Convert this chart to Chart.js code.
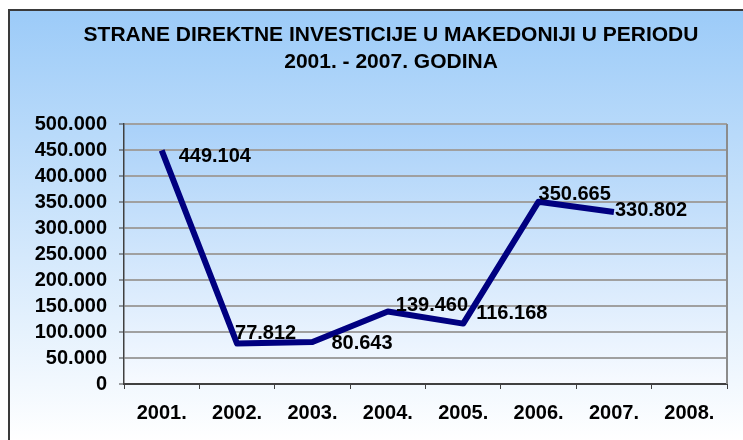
<!DOCTYPE html>
<html>
<head>
<meta charset="utf-8">
<script src="https://cdn.jsdelivr.net/npm/chart.js@4"></script>
<style>
    body { margin: 0; background: #fff; }
    #frame {
        position: absolute; left: 8px; top: 9px; width: 800px; height: 500px;
        border-top: 2px solid #3a3a3a; border-left: 2px solid #3a3a3a;
        background: linear-gradient(to bottom, #9ccbf8 0px, #ffffff 430px);
    }
    #fdiChart { position: absolute; left: 0; top: 0; }
</style>
</head>
<body>
<div id="frame"></div>
<canvas id="fdiChart" width="743" height="440"></canvas>
<script>
// Podaci
const years = ['2001.', '2002.', '2003.', '2004.', '2005.', '2006.', '2007.', '2008.'];
const investments = [449104, 77812, 80643, 139460, 116168, 350665, 330802];
const yTickLabels = ['0', '50.000', '100.000', '150.000', '200.000', '250.000',
    '300.000', '350.000', '400.000', '450.000', '500.000'];
const titleLines = ['STRANE DIREKTNE INVESTICIJE U MAKEDONIJI U PERIODU', '2001. - 2007. GODINA'];

// pomak oznaka u odnosu na tačku (kao u originalu)
const labelOffsets = [[17, 6], [-2, -10], [19, 1], [8, -6], [13, -10], [0, -7], [1, -1]];

const font = "'Liberation Sans', Arial, sans-serif";
Chart.defaults.font.family = font;

function formatNum(v) {
    return v.toString().replace(/\B(?=(\d{3})+(?!\d))/g, '.');
}

// Pozadina grafika i desna ivica
const plotArea = {
    id: 'plotArea',
    beforeDraw(chart) {
        const { ctx, chartArea: a } = chart;
        const g = ctx.createLinearGradient(0, a.top, 0, a.bottom);
        g.addColorStop(0, '#a9d1f9');
        g.addColorStop(1, '#f7faff');
        ctx.save();
        ctx.fillStyle = g;
        ctx.fillRect(a.left, a.top, a.right - a.left, a.bottom - a.top);
        ctx.restore();
    },
    beforeDatasetsDraw(chart) {
        const { ctx, chartArea: a } = chart;
        ctx.save();
        ctx.strokeStyle = '#8c8c8c';
        ctx.lineWidth = 2;
        ctx.beginPath();
        ctx.moveTo(a.right, a.top);
        ctx.lineTo(a.right, a.bottom);
        ctx.stroke();
        ctx.restore();
    }
};

// Naslov (centriran kao u originalu, ne na sredini platna)
const chartTitle = {
    id: 'chartTitle',
    afterDraw(chart) {
        const { ctx } = chart;
        ctx.save();
        ctx.font = 'bold 21px ' + font;
        ctx.fillStyle = '#000';
        ctx.textAlign = 'center';
        ctx.textBaseline = 'middle';
        titleLines.forEach((line, i) => {
            ctx.fillText(line, 391, 35 + i * 27);
        });
        ctx.restore();
    }
};

// Oznake vrijednosti
const valueLabels = {
    id: 'valueLabels',
    afterDatasetsDraw(chart) {
        const { ctx } = chart;
        const meta = chart.getDatasetMeta(0);
        ctx.save();
        ctx.font = 'bold 20px ' + font;
        ctx.fillStyle = '#000';
        ctx.textAlign = 'left';
        ctx.textBaseline = 'middle';
        meta.data.forEach((pt, i) => {
            const off = labelOffsets[i] || [0, 0];
            ctx.fillText(formatNum(investments[i]), pt.x + off[0], pt.y + off[1]);
        });
        ctx.restore();
    }
};

const ctx = document.getElementById('fdiChart').getContext('2d');
const fdiChart = new Chart(ctx, {
    type: 'line',
    data: {
        labels: years,
        datasets: [{
            data: investments,
            borderColor: '#000080',
            borderWidth: 6,
            borderJoinStyle: 'round',
            tension: 0,
            pointRadius: 0,
            fill: false
        }]
    },
    options: {
        responsive: false,
        animation: false,
        devicePixelRatio: 1,
        layout: { padding: { top: 124, left: 0, right: 16, bottom: 0 } },
        plugins: {
            legend: { display: false },
            tooltip: { enabled: false },
            title: { display: false }
        },
        scales: {
            x: {
                offset: true,
                grid: {
                    offset: true,
                    drawOnChartArea: false,
                    tickLength: 5,
                    tickColor: '#404040',
                    tickWidth: 1
                },
                border: { color: '#404040', width: 2 },
                ticks: {
                    color: '#000',
                    padding: 12,
                    font: { size: 20, weight: 'bold' }
                },
                afterFit: function(scale) { scale.height = 56; }
            },
            y: {
                min: 0,
                max: 500000,
                grid: {
                    color: '#a0a0a0',
                    lineWidth: 2,
                    tickLength: 5,
                    tickColor: '#404040',
                    tickWidth: 1
                },
                border: { color: '#404040', width: 1.5 },
                ticks: {
                    stepSize: 50000,
                    autoSkip: false,
                    color: '#000',
                    padding: 12,
                    font: { size: 20, weight: 'bold' },
                    callback: function(value, index) {
                        return yTickLabels[index];
                    }
                },
                afterFit: function(scale) { scale.width = 124; }
            }
        }
    },
    plugins: [plotArea, chartTitle, valueLabels]
});
</script>
</body>
</html>
